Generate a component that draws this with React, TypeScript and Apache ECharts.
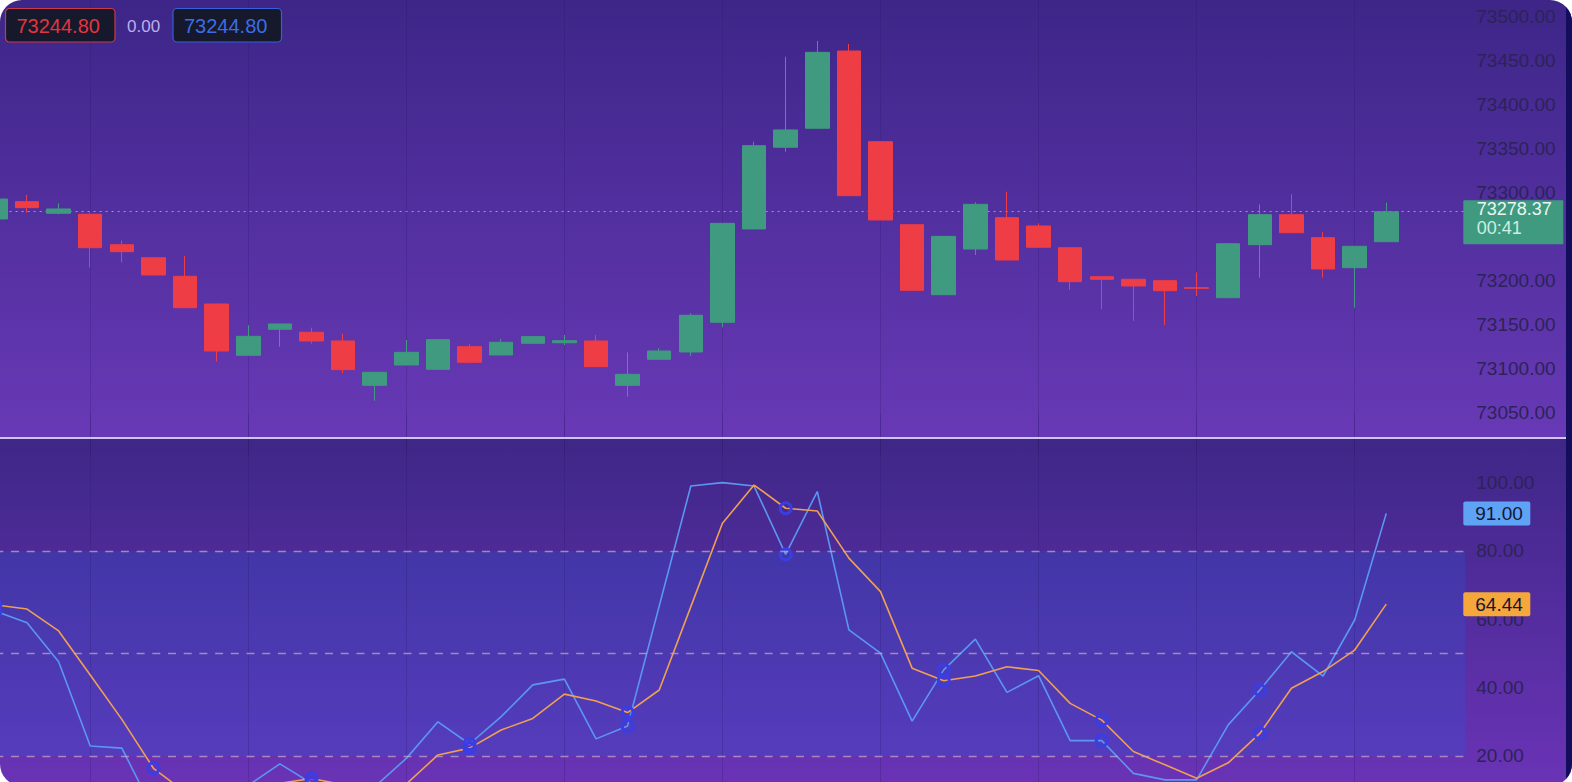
import React, { useEffect, useRef } from 'react';
import * as echarts from 'echarts';

const categories = [
  '09:16', '09:17', '09:18', '09:19', '09:20', '09:21', '09:22', '09:23', '09:24', '09:25',
  '09:26', '09:27', '09:28', '09:29', '09:30', '09:31', '09:32', '09:33', '09:34', '09:35',
  '09:36', '09:37', '09:38', '09:39', '09:40', '09:41', '09:42', '09:43', '09:44', '09:45',
  '09:46', '09:47', '09:48', '09:49', '09:50', '09:51', '09:52', '09:53', '09:54', '09:55',
  '09:56', '09:57', '09:58', '09:59', '10:00', '10:01', '10:02',
];

const opens = [
  73270.1, 73289.8, 73276.6, 73275.5, 73240.9, 73226.1, 73205.0, 73173.5, 73115.2, 73144.8,
  73141.4, 73131.5, 73081.1, 73104.2, 73099.3, 73125.0, 73115.6, 73128.9, 73129.5, 73131.5,
  73081.1, 73110.7, 73119.0, 73152.7, 73258.8, 73351.6, 73373.2, 73461.0, 73358.0, 73263.6,
  73184.1, 73236.0, 73271.6, 73262.2, 73237.5, 73204.5, 73201.6, 73200.0, 73192.0, 73180.7,
  73240.9, 73275.0, 73248.9, 73214.8, 73244.3,
];
const closes = [
  73292.8, 73283.0, 73281.5, 73237.5, 73233.0, 73206.5, 73169.3, 73120.1, 73136.8, 73150.8,
  73131.5, 73098.9, 73095.9, 73118.6, 73133.0, 73107.3, 73130.0, 73136.4, 73131.8, 73102.3,
  73093.6, 73120.1, 73160.7, 73265.2, 73353.4, 73371.3, 73459.5, 73296.6, 73269.0, 73189.1,
  73250.4, 73286.8, 73223.5, 73238.0, 73198.9, 73201.6, 73194.0, 73188.6, 73191.4, 73242.0,
  73275.0, 73254.5, 73213.3, 73239.1, 73278.37,
];
const lows = [
  73269.5, 73277.3, 73275.5, 73214.8, 73220.9, 73206.0, 73169.0, 73108.0, 73115.0, 73125.0,
  73128.4, 73094.8, 73063.6, 73104.0, 73099.0, 73106.1, 73115.3, 73128.6, 73126.9, 73102.0,
  73068.2, 73110.4, 73114.4, 73147.0, 73258.5, 73346.6, 73373.0, 73296.3, 73268.7, 73188.8,
  73183.8, 73229.2, 73223.2, 73237.7, 73189.4, 73167.5, 73154.5, 73149.7, 73182.6, 73180.4,
  73203.4, 73254.2, 73203.4, 73169.3, 73244.0,
];
const highs = [
  73293.5, 73297.4, 73288.0, 73277.7, 73245.5, 73226.5, 73228.1, 73174.0, 73149.3, 73151.2,
  73146.6, 73139.8, 73096.3, 73132.6, 73133.5, 73128.1, 73133.8, 73136.8, 73138.3, 73138.3,
  73118.6, 73123.2, 73163.0, 73265.6, 73358.0, 73454.5, 73472.4, 73469.0, 73358.3, 73263.9,
  73250.7, 73289.1, 73301.1, 73265.2, 73237.8, 73205.0, 73201.9, 73200.3, 73209.5, 73242.3,
  73286.8, 73298.2, 73255.3, 73239.4, 73288.6,
];

const kValues = [
  62.4, 59.0, 47.6, 22.9, 22.3, 4.0, 2.0, 7.0, 11.4, 17.7,
  12.0, 5.0, 11.0, 19.3, 30.0, 23.5, 31.5, 40.8, 42.5, 25.0,
  28.8, 63.9, 99.0, 100.0, 99.0, 79.0, 97.4, 56.9, 50.1, 30.2,
  45.2, 54.2, 38.6, 43.5, 24.5, 24.5, 14.9, 13.0, 13.0, 29.1,
  39.3, 50.5, 43.4, 59.8, 91.0,
];
const dValues = [
  64.2, 63.0, 56.6, 43.7, 30.7, 16.4, 9.4, 4.3, 6.8, 12.0,
  13.4, 11.6, 9.3, 11.8, 20.3, 22.3, 27.6, 31.0, 38.1, 36.1,
  32.7, 39.3, 63.7, 88.1, 99.3, 92.5, 91.7, 77.9, 68.1, 45.7,
  42.0, 43.4, 46.1, 45.0, 35.4, 30.5, 21.3, 17.4, 13.5, 18.0,
  26.6, 39.8, 44.7, 51.0, 64.44,
];

// 73250 sits behind the live price tag in the reference
const priceTicks = [73050, 73100, 73150, 73200, 73300, 73350, 73400, 73450, 73500];
const stochTicks = [20, 40, 60, 80, 100];
const stochLevels = [80, 50, 20];
const stochBand = [20, 80];
const gridCategories = ['09:19', '09:24', '09:29', '09:34', '09:39', '09:44', '09:49', '09:54', '09:59'];
const legendTexts = ['73244.80', '0.00', '73244.80'];
const countdown = '00:41';

const FONT = '"Liberation Sans", Arial, sans-serif';
const UP = '#3f9a7f';
const DOWN = '#ef3d45';
const K_COLOR = '#5b97f2';
const D_COLOR = '#efa052';
const AXIS_TEXT = '#2c2358';
const MARKER = '#3b3de4';
const VGRID = { color: 'rgba(35,18,100,0.22)', width: 1, type: 'solid' };

function lineData(values: number[]) {
  return values.map((v, i) =>
    i % 5 === 0
      ? {
          value: v,
          symbol: 'circle',
          symbolSize: 11,
          itemStyle: { color: 'rgba(0,0,0,0)', borderColor: MARKER, borderWidth: 3 },
        }
      : { value: v, symbol: 'none' }
  );
}

export default function App() {
  const ref = useRef<HTMLDivElement>(null);

  useEffect(() => {
    document.body.style.margin = '0';
    document.body.style.overflow = 'hidden';
    const chart = echarts.init(ref.current!, null, { renderer: 'svg' });

    const gridLeft = -20.4;
    const gridRight = 106.7;

    const xAxisBase = {
      type: 'category',
      data: categories,
      boundaryGap: true,
      axisLine: { show: false },
      axisTick: { show: false },
      axisLabel: { show: false },
      splitLine: { show: false },
    };

    const vLines = gridCategories.map((c) => ({ xAxis: c, lineStyle: VGRID }));

    const option: any = {
      animation: false,
      backgroundColor: 'transparent',
      textStyle: { fontFamily: FONT },
      grid: [
        { left: gridLeft, right: gridRight, top: -27.3, height: 484, outerBoundsMode: 'none', containLabel: false },
        { left: gridLeft, right: gridRight, top: 414.3, height: 410, outerBoundsMode: 'none', containLabel: false },
      ],
      xAxis: [
        { ...xAxisBase, gridIndex: 0 },
        { ...xAxisBase, gridIndex: 1 },
      ],
      yAxis: [
        {
          type: 'value',
          gridIndex: 0,
          position: 'right',
          min: 73000,
          max: 73550,
          interval: 50,
          axisLine: { show: false },
          axisTick: { show: false },
          splitLine: { show: false },
          axisLabel: {
            color: AXIS_TEXT,
            fontSize: 19,
            fontFamily: FONT,
            margin: 11,
            formatter: (v: number) =>
              priceTicks.some((t) => Math.abs(t - v) < 1e-6) ? v.toFixed(2) : '',
          },
        },
        {
          type: 'value',
          gridIndex: 1,
          position: 'right',
          min: 0,
          max: 120,
          interval: 20,
          axisLine: { show: false },
          axisTick: { show: false },
          splitLine: { show: false },
          axisLabel: {
            color: AXIS_TEXT,
            fontSize: 19,
            fontFamily: FONT,
            margin: 11,
            formatter: (v: number) =>
              stochTicks.some((t) => Math.abs(t - v) < 1e-6) ? v.toFixed(2) : '',
          },
        },
      ],
      series: [
        {
          type: 'candlestick',
          xAxisIndex: 0,
          yAxisIndex: 0,
          barWidth: 24,
          data: opens.map((o, i) => [o, closes[i], lows[i], highs[i]]),
          itemStyle: {
            color: UP,
            color0: DOWN,
            borderColor: UP,
            borderColor0: DOWN,
            borderWidth: 1,
          },
          markLine: {
            silent: true,
            symbol: 'none',
            z: 1,
            label: { show: false },
            lineStyle: { color: '#74b3a6', type: [2, 4], width: 1 },
            data: [{ yAxis: closes[closes.length - 1] }, ...vLines],
          },
        },
        {
          type: 'line',
          name: 'K',
          xAxisIndex: 1,
          yAxisIndex: 1,
          showSymbol: true,
          showAllSymbol: true,
          data: lineData(kValues),
          lineStyle: { color: K_COLOR, width: 1.6 },
          itemStyle: { color: K_COLOR },
          z: 3,
          markArea: {
            silent: true,
            itemStyle: { color: 'rgba(40,90,215,0.26)' },
            data: [[{ yAxis: stochBand[0] }, { yAxis: stochBand[1] }]],
          },
          markLine: {
            silent: true,
            symbol: 'none',
            label: { show: false },
            lineStyle: { color: 'rgba(196,172,200,0.7)', type: [8, 7.7], width: 1.4 },
            data: stochLevels.map((v) => ({ yAxis: v })),
          },
        },
        {
          type: 'line',
          name: 'D',
          xAxisIndex: 1,
          yAxisIndex: 1,
          showSymbol: true,
          showAllSymbol: true,
          data: lineData(dValues),
          lineStyle: { color: D_COLOR, width: 1.6 },
          itemStyle: { color: D_COLOR },
          z: 3,
          markLine: {
            silent: true,
            symbol: 'none',
            z: 1,
            label: { show: false },
            data: vLines,
          },
        },
      ],
    };

    chart.setOption(option);

    const lastIdx = closes.length - 1;
    const yPrice = chart.convertToPixel({ yAxisIndex: 0 }, closes[lastIdx]) as number;
    const yK = chart.convertToPixel({ yAxisIndex: 1 }, kValues[lastIdx]) as number;
    const yD = chart.convertToPixel({ yAxisIndex: 1 }, dValues[lastIdx]) as number;
    const xa = chart.convertToPixel({ xAxisIndex: 0 }, categories[categories.length - 1]) as number;
    const xb = chart.convertToPixel({ xAxisIndex: 0 }, categories[categories.length - 2]) as number;
    const xRight = xa + (xa - xb) / 2 - 2;

    const boxText = (x: number, y: number, text: string, fill: string, size: number) => ({
      type: 'text',
      x,
      y,
      z: 101,
      style: { text, fill, fontSize: size, fontFamily: FONT, verticalAlign: 'middle', align: 'left' },
    });

    chart.setOption({
      graphic: [
        {
          type: 'rect',
          z: 100,
          shape: { x: 5.5, y: 8.5, width: 109.5, height: 33.5, r: 4 },
          style: { fill: '#16182b', stroke: '#c63b4c', lineWidth: 1.2 },
        },
        boxText(16.5, 26, legendTexts[0], '#e1363f', 20),
        boxText(127, 26.5, legendTexts[1], '#bcaeec', 17),
        {
          type: 'rect',
          z: 100,
          shape: { x: 173, y: 8.5, width: 108.5, height: 33.5, r: 4 },
          style: { fill: '#16182b', stroke: '#3560d8', lineWidth: 1.2 },
        },
        boxText(184, 26, legendTexts[2], '#3b6de6', 20),
        {
          type: 'rect',
          z: 100,
          shape: { x: xRight, y: yPrice - 11.5, width: 100, height: 44, r: 1 },
          style: { fill: UP },
        },
        boxText(xRight + 13.5, yPrice - 2.5, closes[lastIdx].toFixed(2), '#eaf6f1', 18),
        boxText(xRight + 13.5, yPrice + 16, countdown, '#cdeee2', 18),
        {
          type: 'rect',
          z: 100,
          shape: { x: xRight, y: yK - 12, width: 67, height: 24, r: 2 },
          style: { fill: '#5ea3f6' },
        },
        boxText(xRight + 12, yK + 0.5, kValues[lastIdx].toFixed(2), '#151633', 19),
        {
          type: 'rect',
          z: 100,
          shape: { x: xRight, y: yD - 12, width: 67, height: 24, r: 2 },
          style: { fill: '#f5a73b' },
        },
        boxText(xRight + 12, yD + 0.5, dValues[lastIdx].toFixed(2), '#151633', 19),
      ],
    });

    return () => chart.dispose();
  }, []);

  return (
    <div style={{ width: 1572, height: 782, overflow: 'hidden', background: '#ffffff', position: 'relative' }}>
      <div
        style={{
          position: 'absolute',
          left: 0,
          top: 0,
          width: 1572,
          height: 786,
          borderRadius: 22,
          overflow: 'hidden',
          background:
            'linear-gradient(to bottom, #3d2688 0px, #6839b6 437px, #3e2787 437px, #6a33b6 786px)',
        }}
      >
        <div ref={ref} style={{ position: 'absolute', left: 0, top: 0, width: 1572, height: 786 }} />
        <div
          style={{
            position: 'absolute',
            left: 0,
            top: 436.5,
            width: 1566,
            height: 2,
            background: '#cfc5ef',
          }}
        />
        <div
          style={{
            position: 'absolute',
            left: 1566,
            top: 0,
            width: 6,
            height: 786,
            background: '#130e5b',
          }}
        />
      </div>
    </div>
  );
}
